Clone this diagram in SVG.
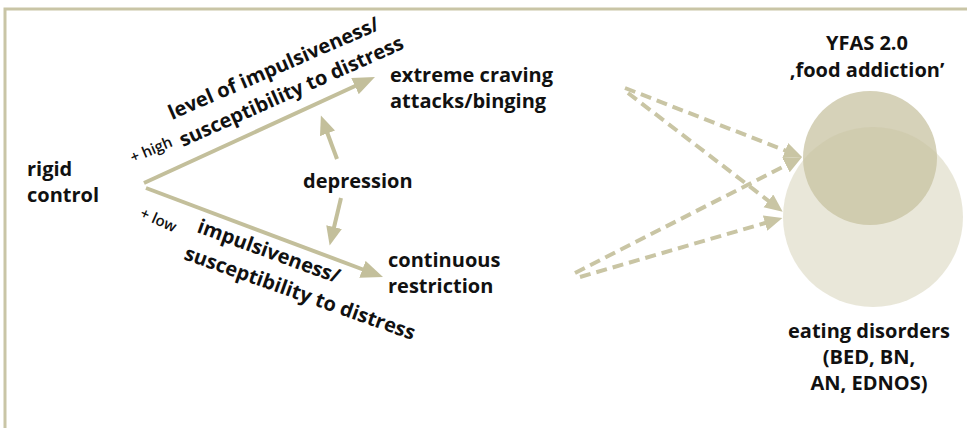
<svg xmlns="http://www.w3.org/2000/svg" width="967" height="428" viewBox="0 0 967 428">
<defs>
<style>
text{font-family:"Open Sans","Noto Sans","DejaVu Sans",sans-serif;font-weight:700;fill:#111;font-size:20px}
.sm{font-size:15px;font-weight:600}
.c{text-anchor:middle}
.solid{stroke:#c3bf9b;stroke-width:4;fill:none}
.dash{stroke:#c9c5a4;stroke-width:4;fill:none;stroke-dasharray:11 6}
</style>
<marker id="ah" markerUnits="userSpaceOnUse" markerWidth="24" markerHeight="20" refX="2" refY="9" orient="auto"><path d="M0,0 L22,9 L0,18 z" fill="#c3bf9b"/></marker>
<marker id="ahs" markerUnits="userSpaceOnUse" markerWidth="22" markerHeight="18" refX="2" refY="8" orient="auto"><path d="M0,0 L19,8 L0,16 z" fill="#c3bf9b"/></marker>
<marker id="ahd" markerUnits="userSpaceOnUse" markerWidth="22" markerHeight="18" refX="2" refY="8" orient="auto"><path d="M0,0 L18,8 L0,16 z" fill="#c9c5a4"/></marker>
</defs>
<rect width="967" height="428" fill="#fff"/>
<path d="M5,428 V9 H967" fill="none" stroke="#c9c5a6" stroke-width="3"/>
<g id="circles">
<circle id="yfas" cx="870" cy="158" r="67" fill="#d6d2b9"/>
<circle id="ed" cx="873" cy="217" r="90" fill="#c8c4a0" fill-opacity="0.4"/>
</g>
<g id="connectors">
<line class="solid" x1="144" y1="183" x2="356.8" y2="85.3" marker-end="url(#ah)"/>
<line class="solid" x1="146" y1="188" x2="364.3" y2="270" marker-end="url(#ah)"/>
<line class="solid" x1="337" y1="159" x2="326.8" y2="131.5" marker-end="url(#ahs)"/>
<line class="solid" x1="341" y1="198" x2="333.6" y2="229" marker-end="url(#ahs)"/>
<line class="dash" x1="625" y1="88" x2="787.1" y2="151.2" marker-end="url(#ahd)"/>
<line class="dash" x1="628" y1="93" x2="770" y2="202" marker-end="url(#ahd)"/>
<line class="dash" x1="575" y1="273" x2="787.8" y2="164.3" marker-end="url(#ahd)"/>
<line class="dash" x1="580" y1="277" x2="767" y2="222.5" marker-end="url(#ahd)"/>
</g>
<g id="rigid"><text x="27" y="176">rigid</text><text x="27" y="202">control</text></g>
<g id="craving"><text x="390" y="82">extreme craving</text><text x="390" y="108">attacks/binging</text></g>
<g id="depression"><text x="303" y="188">depression</text></g>
<g id="restriction"><text x="388" y="267">continuous</text><text x="388" y="293">restriction</text></g>
<g id="yfas-label"><text class="c" x="867" y="50">YFAS 2.0</text><text class="c" x="867" y="77">‚food addiction’</text></g>
<g id="ed-label"><text class="c" x="869" y="338">eating disorders</text><text class="c" x="869" y="364">(BED, BN,</text><text class="c" x="869" y="390">AN, EDNOS)</text></g>
<g id="high-label">
<text class="sm" transform="translate(133,163) rotate(-23)">+ high</text>
<text transform="translate(172,120) rotate(-23.5)">level of impulsiveness/</text>
<text transform="translate(183,147) rotate(-24)">susceptibility to distress</text>
</g>
<g id="low-label">
<text class="sm" transform="translate(139,217) rotate(24)">+ low</text>
<text transform="translate(196,232) rotate(20)">impulsiveness/</text>
<text transform="translate(183,259) rotate(19.5)">susceptibility to distress</text>
</g>
</svg>
